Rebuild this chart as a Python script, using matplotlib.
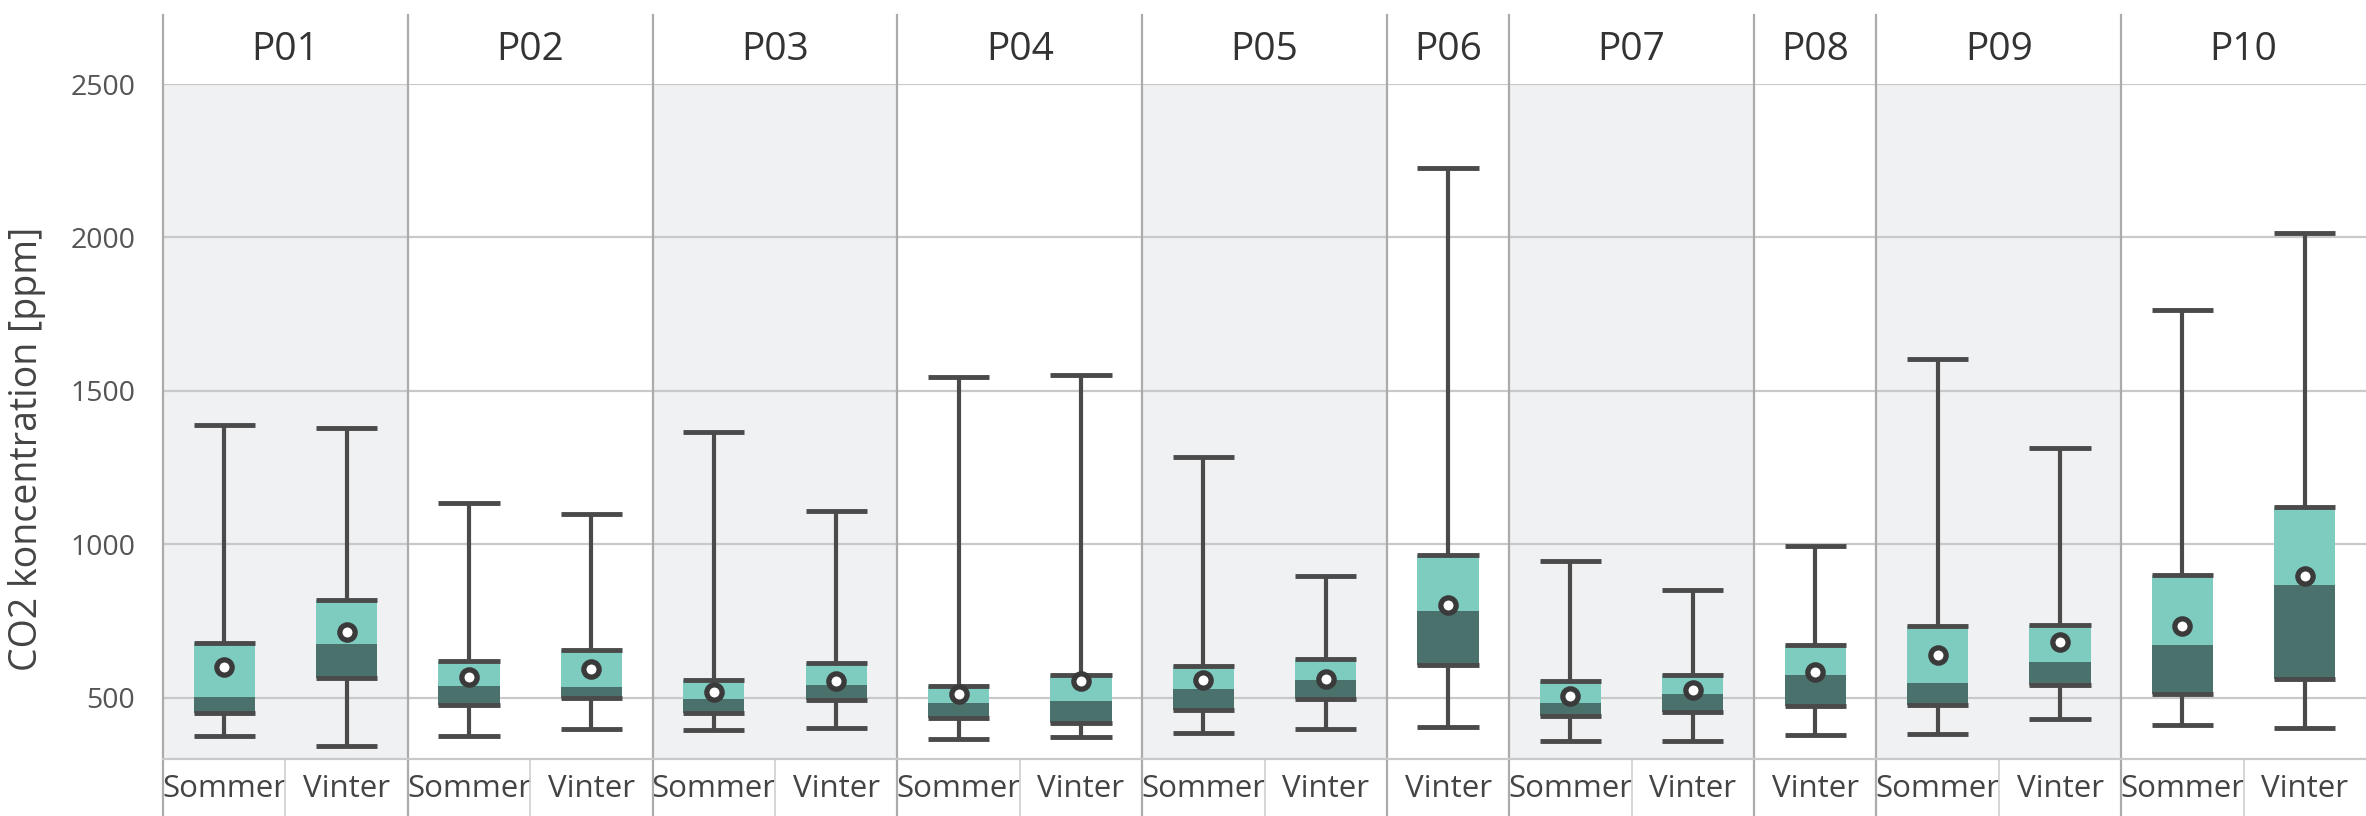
import numpy as np
import matplotlib
matplotlib.use("Agg")
import matplotlib.pyplot as plt
from matplotlib.transforms import blended_transform_factory

plt.rcParams['font.family'] = ['Open Sans', 'DejaVu Sans']

# one entry per box, left to right
panel = ["P01", "P01", "P02", "P02", "P03", "P03", "P04", "P04", "P05", "P05",
         "P06", "P07", "P07", "P08", "P09", "P09", "P10", "P10"]
season = ["Sommer", "Vinter", "Sommer", "Vinter", "Sommer", "Vinter", "Sommer", "Vinter",
          "Sommer", "Vinter", "Vinter", "Sommer", "Vinter", "Vinter", "Sommer", "Vinter",
          "Sommer", "Vinter"]
whis_lo = [376, 343, 376, 399, 395, 401, 365, 371, 386, 399, 405, 359, 358, 378, 380, 430, 412, 401]
q1      = [451, 565, 475, 500, 449, 491, 435, 417, 460, 494, 605, 440, 452, 473, 475, 542, 511, 562]
median  = [502, 675, 538, 536, 495, 540, 482, 489, 529, 556, 781, 482, 512, 574, 549, 617, 672, 868]
q3      = [678, 819, 619, 655, 558, 614, 538, 574, 603, 626, 964, 554, 574, 671, 732, 736, 900, 1122]
whis_hi = [1390, 1380, 1135, 1100, 1365, 1108, 1545, 1550, 1285, 898, 2225, 944, 850, 995, 1605, 1315, 1765, 2015]
mean    = [600, 713, 567, 594, 518, 554, 511, 554, 558, 562, 803, 505, 524, 583, 640, 682, 732, 895]

light = '#7ECCC0'
dark = '#4A716B'
line_c = '#4A4A4A'
sep_c = '#ABABAB'
bg_gray = '#F0F1F3'

fig = plt.figure(figsize=(23.66, 8.16), dpi=100)
ax = fig.add_axes([163 / 2366, 57 / 816, 1 - 163 / 2366, (759 - 84) / 816])

n = len(panel)
x = np.arange(n) + 0.5
w = 0.5

# panel extents
names = []
for p in panel:
    if p not in names:
        names.append(p)
starts = [panel.index(p) for p in names]
ends = [len(panel) - panel[::-1].index(p) for p in names]

for i, (s, e) in enumerate(zip(starts, ends)):
    if i % 2 == 0:
        ax.axvspan(s, e, color=bg_gray, zorder=0, lw=0)

ax.set_xlim(0, n)
ax.set_ylim(300, 2500)
ax.set_yticks([500, 1000, 1500, 2000, 2500])
ax.grid(axis='y', color='#C9C9C9', lw=1.6, zorder=1)
ax.set_axisbelow(True)

for sp in ['top', 'right']:
    ax.spines[sp].set_visible(False)
ax.spines['left'].set_visible(False)
ax.spines['bottom'].set_color('#C9C9C9')
ax.spines['bottom'].set_linewidth(1.6)

# panel separators through header and label row
for b in [0] + ends[:-1]:
    ax.axvline(b, ymin=-0.085, ymax=1.102, color=sep_c, lw=1.6, clip_on=False, zorder=2)
# separators between categories in the label row
for i in range(1, n):
    if i not in ends:
        ax.axvline(i, ymin=-0.085, ymax=0, color='#D0D0D0', lw=1.2, clip_on=False)

# boxes
ax.vlines(x, whis_lo, whis_hi, color=line_c, lw=3, zorder=3)
ax.bar(x, np.array(median) - np.array(q1), bottom=q1, width=w, color=dark, zorder=4, lw=0)
ax.bar(x, np.array(q3) - np.array(median), bottom=median, width=w, color=light, zorder=4, lw=0)
for vals in (whis_lo, whis_hi, q1, q3):
    ax.hlines(vals, x - w / 2, x + w / 2, color=line_c, lw=3.5, zorder=5)
ax.plot(x, mean, 'o', ms=11, mfc='white', mec='#3A3A3A', mew=3.8, zorder=6)

# headers
tr = blended_transform_factory(ax.transData, ax.transAxes)
for name, s, e in zip(names, starts, ends):
    ax.text((s + e) / 2, 1.05, name, transform=tr, ha='center', va='center',
            fontsize=28, color='#333333')

ax.set_xticks(x)
ax.set_xticklabels(season, fontsize=22.5, color='#444444')
ax.tick_params(axis='x', length=0, pad=11)
ax.tick_params(axis='y', length=0, pad=20, labelsize=20.5, labelcolor='#555555')

fig.text(27 / 2366, 0.45, 'CO2 koncentration [ppm]', rotation=90, ha='center', va='center',
         fontsize=27, color='#444444')

fig.savefig('out.png', dpi=100)
